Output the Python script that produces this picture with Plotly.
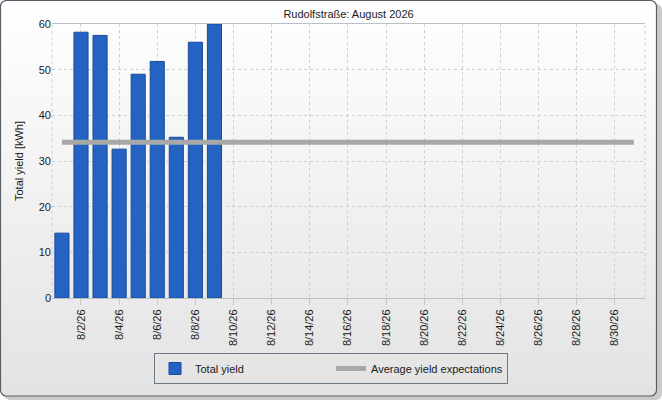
import base64
import plotly.graph_objects as go

# daily yield for August 2026 (only first 9 days recorded)
days = ["2026-08-01", "2026-08-02", "2026-08-03", "2026-08-04", "2026-08-05",
        "2026-08-06", "2026-08-07", "2026-08-08", "2026-08-09"]
total_yield = [14.2, 58.2, 57.5, 32.6, 49.0, 51.8, 35.2, 56.0, 60.0]

# average yield expectation across the month
avg_days = ["2026-08-01", "2026-08-31"]
avg_yield = [34.1, 34.1]

W, H = 662, 400
L, R, T, B = 52, 17, 24, 102
pw, ph = W - L - R, H - T - B

# background: rounded frame with soft vertical gradient + shadow
svg = f"""<svg xmlns='http://www.w3.org/2000/svg' width='{W}' height='{H}'>
<defs><linearGradient id='g' x1='0' y1='0' x2='0' y2='1'>
<stop offset='0' stop-color='#ffffff'/><stop offset='1' stop-color='#e3e3e3'/>
</linearGradient></defs>
<rect x='0' y='0' width='{W}' height='{H}' fill='#ffffff'/>
<rect x='4' y='4' width='{W - 4}' height='{H - 4}' rx='6' fill='#cbcbcb'/>
<rect x='0.5' y='0.5' width='656' height='395.5' rx='6' fill='url(#g)' stroke='#56606a' stroke-width='1.2'/>
</svg>"""
bg = "data:image/svg+xml;base64," + base64.b64encode(svg.encode()).decode()

font = "Liberation Sans"

fig = go.Figure()
fig.add_trace(go.Bar(
    x=days, y=total_yield, name="Total yield",
    width=0.74 * 86400000,
    marker=dict(color="#2463c1", line=dict(color="#1b4b98", width=1)),
))
fig.add_trace(go.Scatter(
    x=avg_days, y=avg_yield, name="Average yield expectations",
    mode="lines", line=dict(color="#a8a8a8", width=5),
))

fig.update_layout(
    width=W, height=H,
    margin=dict(l=L, r=R, t=T, b=B),
    paper_bgcolor="white",
    plot_bgcolor="rgba(0,0,0,0)",
    font=dict(family=font, size=11, color="#1a1a1a"),
    title=dict(text="Rudolfstraße: August 2026", x=(L + pw / 2) / W, xanchor="center",
               y=1 - 14 / H, yanchor="middle", font=dict(size=11, color="#1a1a1a")),
    showlegend=True,
    legend=dict(orientation="h", x=(331 - L) / pw, xanchor="center",
                y=(ph - (353 - T)) / ph, yanchor="top",
                bordercolor="#6b7886", borderwidth=1, bgcolor="rgba(0,0,0,0)",
                entrywidth=131, entrywidthmode="pixels",
                font=dict(size=11)),
    images=[dict(source=bg, xref="paper", yref="paper",
                 x=-L / pw, y=1 + T / ph, sizex=W / pw, sizey=H / ph,
                 xanchor="left", yanchor="top", sizing="stretch", layer="below")],
    shapes=[
        dict(type="line", xref="paper", yref="paper", x0=0, x1=0, y0=0, y1=1,
             line=dict(color="#cfcfcf", width=1, dash="dot"), layer="below"),
        dict(type="line", xref="paper", yref="paper", x0=1, x1=1, y0=0, y1=1,
             line=dict(color="#cfcfcf", width=1, dash="dot"), layer="below"),
    ],
)

fig.update_xaxes(
    type="date",
    range=["2026-07-31 11:30", "2026-08-31 14:00"],
    tick0="2026-08-02", dtick=2 * 86400000,
    tickformat="%-m/%-d/%y", tickangle=-90,
    ticks="outside", ticklen=6, tickcolor="#c8c8c8",
    showgrid=True, gridcolor="#cfcfcf", griddash="dot", gridwidth=1,
    showline=True, linecolor="#b9c0c8", linewidth=1, mirror=True,
    zeroline=False, tickfont=dict(size=11),
)
fig.update_yaxes(
    range=[0, 60], dtick=10,
    showgrid=True, gridcolor="#cfcfcf", griddash="dot", gridwidth=1,
    zeroline=False, ticks="", tickfont=dict(size=11),
    title=dict(text="Total yield [kWh]", standoff=12, font=dict(size=11)),
)

fig.write_html("out.html", config={"displayModeBar": False},
               post_script="document.body.style.margin='0';")
